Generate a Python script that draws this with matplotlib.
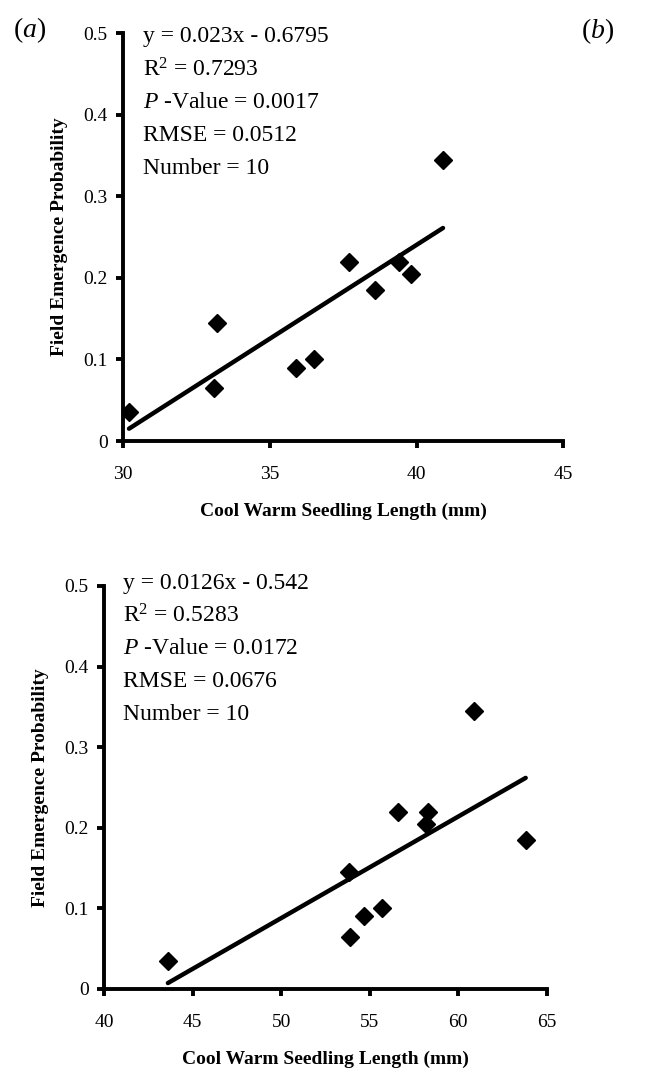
import numpy as np
import matplotlib
matplotlib.use("Agg")
import matplotlib.pyplot as plt

plt.rcParams["font.family"] = ["Liberation Serif", "DejaVu Serif"]
plt.rcParams["mathtext.fontset"] = "custom"
plt.rcParams["mathtext.rm"] = "Liberation Serif"
plt.rcParams["mathtext.it"] = "Liberation Serif:italic"

# field emergence probability (same for both panels)
emergence = [0.035, 0.145, 0.065, 0.09, 0.10, 0.22, 0.185, 0.22, 0.205, 0.345]

# (a) seedling length
len_a = [30.2, 33.2, 33.1, 35.9, 36.5, 37.7, 38.6, 39.4, 39.8, 40.9]
# (b) seedling length
len_b = [43.6, 53.8, 53.9, 54.7, 55.7, 56.6, 63.8, 58.3, 58.2, 60.9]

fit_a = (0.023, -0.6795)
fit_b = (0.0126, -0.542)

stats_a = ["y = 0.023x - 0.6795", "R$^{2}$ = 0.7293", "$P$ -Value = 0.0017",
           "RMSE = 0.0512", "Number = 10"]
stats_b = ["y = 0.0126x - 0.542", "R$^{2}$ = 0.5283", "$P$ -Value = 0.0172",
           "RMSE = 0.0676", "Number = 10"]

xticks_a = [30, 35, 40, 45]
xticks_b = [40, 45, 50, 55, 60, 65]
yticks = [0, 0.1, 0.2, 0.3, 0.4, 0.5]

xlabel = "Cool Warm Seedling Length (mm)"
ylabel = "Field Emergence Probability"

fig = plt.figure(figsize=(6.55, 10.73), dpi=100)
ax1 = fig.add_axes([0.188, 0.589, 0.672, 0.380])
ax2 = fig.add_axes([0.159, 0.0783, 0.676, 0.3756])


def draw(ax, xs, fit, stats, xticks, text_x, text_y0):
    xs = np.array(xs)
    ax.plot(xs, emergence, "D", color="black", markersize=9.5, zorder=3)
    # fitted line over the data range
    xl = np.array([xs.min(), xs.max()])
    ax.plot(xl, fit[0] * xl + fit[1], color="black", lw=3.2, solid_capstyle="round")
    ax.set_xlim(xticks[0], xticks[-1])
    ax.set_ylim(0, 0.5)
    ax.set_xticks(xticks)
    ax.set_yticks(yticks)
    ax.set_yticklabels(["0", "0.1", "0.2", "0.3", "0.4", "0.5"])
    for s in ["top", "right"]:
        ax.spines[s].set_visible(False)
    for s in ["left", "bottom"]:
        ax.spines[s].set_linewidth(2.8)
    ax.tick_params(direction="out", length=5, width=2.8, labelsize=14)
    ax.tick_params(axis="x", pad=13)
    ax.tick_params(axis="y", pad=6)
    ax.set_xlabel(xlabel, fontsize=14, fontweight="bold", labelpad=14)
    ax.set_ylabel(ylabel, fontsize=14, fontweight="bold")
    ax.yaxis.set_label_coords(-0.125, 0.5)
    for i, line in enumerate(stats):
        ax.text(text_x, text_y0 - i * 0.0405, line, fontsize=17,
                va="center_baseline", ha="left")


draw(ax1, len_a, fit_a, stats_a, xticks_a, 30.67, 0.499)
draw(ax2, len_b, fit_b, stats_b, xticks_b, 41.08, 0.506)

fig.text(0.045, 0.972, "($a$)", fontsize=20, va="center", ha="center")
fig.text(0.913, 0.971, "($b$)", fontsize=20, va="center", ha="center")

fig.savefig("out.png", dpi=100)
